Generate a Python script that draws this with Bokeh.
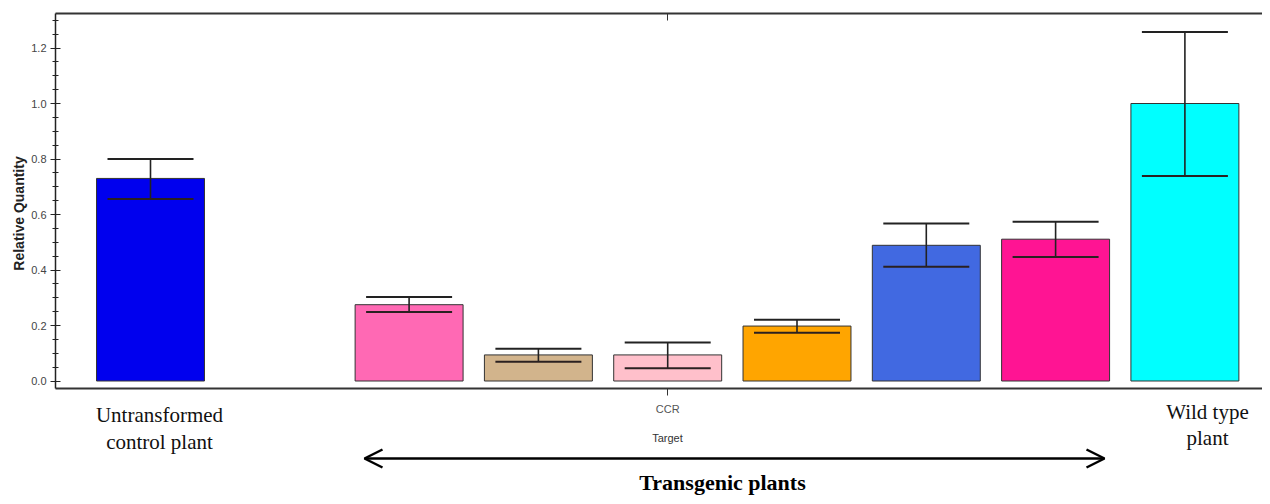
import math
from bokeh.plotting import figure
from bokeh.models import (ColumnDataSource, Whisker, TeeHead, Label, Arrow, OpenHead,
                          LinearAxis, FixedTicker, Range1d, NumeralTickFormatter)
from bokeh.embed import file_html
from bokeh.resources import INLINE

# ---- data ----
slots = [0, 2, 3, 4, 5, 6, 7, 8]
rq = [0.73, 0.275, 0.094, 0.094, 0.198, 0.489, 0.511, 1.0]
rq_upper = [0.80, 0.303, 0.116, 0.139, 0.221, 0.568, 0.574, 1.258]
rq_lower = [0.656, 0.249, 0.069, 0.046, 0.174, 0.412, 0.447, 0.739]
colors = ["#0000EE", "#FF69B4", "#D2B48C", "#FFC0CB", "#FFA500", "#4169E1", "#FF1493", "#00FFFF"]
target_tick = [4]
target_label = "CCR"
y_ticks = [0.0, 0.2, 0.4, 0.6, 0.8, 1.0, 1.2]
y_minor = [round(i * 0.05, 2) for i in range(0, 27)]


# pixel <-> data helpers (layout only)
def xpix(px):
    return (px - 150.0) / 129.3


def ypix(py):
    return (380.5 - py) / 277.5


W, H = 1262, 496
src = ColumnDataSource(dict(x=slots, top=rq, upper=rq_upper, lower=rq_lower, color=colors))

p = figure(width=W, height=H, output_backend="svg", toolbar_location=None,
           x_range=Range1d(xpix(0), xpix(W)), y_range=Range1d(ypix(H), ypix(0)),
           min_border_left=0, min_border_right=0, min_border_top=0, min_border_bottom=0,
           x_axis_location=None, y_axis_location=None)
p.outline_line_color = None
p.grid.visible = False
p.background_fill_color = "white"

p.vbar(x="x", top="top", bottom=0, width=0.835, fill_color="color",
       line_color="#333333", line_width=1, source=src)

w = Whisker(base="x", upper="upper", lower="lower", source=src, level="overlay",
            line_color="#222222", line_width=1.6,
            upper_head=TeeHead(size=86, line_color="#222222", line_width=2),
            lower_head=TeeHead(size=86, line_color="#2a2020", line_width=2))
p.add_layout(w)

tick_font = "Liberation Sans"
x_left, y_bot, y_top = xpix(55), ypix(388), ypix(13)

yaxis = LinearAxis(ticker=FixedTicker(ticks=y_ticks, minor_ticks=y_minor),
                   formatter=NumeralTickFormatter(format="0.0"),
                   fixed_location=x_left, bounds=(y_bot, y_top),
                   major_label_text_font=tick_font,
                   major_label_text_font_size="11px",
                   major_label_text_color="#444444",
                   major_label_standoff=4,
                   major_tick_in=5, major_tick_out=5,
                   minor_tick_in=3, minor_tick_out=3,
                   axis_line_width=1.5, axis_line_color="#222222",
                   major_tick_line_color="#222222", minor_tick_line_color="#222222")
p.add_layout(yaxis, "left")

xaxis = LinearAxis(ticker=FixedTicker(ticks=target_tick, minor_ticks=[]),
                   major_label_overrides={target_tick[0]: target_label},
                   fixed_location=y_bot, bounds=(x_left, xpix(W)),
                   major_label_text_font=tick_font,
                   major_label_text_font_size="11px",
                   major_label_text_color="#555555",
                   major_label_standoff=7,
                   major_tick_in=0, major_tick_out=7,
                   axis_line_width=2, axis_line_color="#333333",
                   major_tick_line_color="#333333")
p.add_layout(xaxis, "below")

top_axis = LinearAxis(ticker=FixedTicker(ticks=target_tick, minor_ticks=[]),
                      major_label_overrides={target_tick[0]: ""},
                      fixed_location=y_top, bounds=(x_left, xpix(W)),
                      major_tick_in=7, major_tick_out=0,
                      axis_line_width=2, axis_line_color="#333333",
                      major_tick_line_color="#333333")
p.add_layout(top_axis, "above")

# axis titles
p.add_layout(Label(x=xpix(18), y=ypix(213), text="Relative Quantity", angle=math.pi / 2,
                   text_font="Liberation Sans", text_font_style="bold",
                   text_font_size="14px", text_color="#222222",
                   text_align="center", text_baseline="middle"))
p.add_layout(Label(x=xpix(667), y=ypix(437), text="Target",
                   text_font=tick_font, text_font_size="11px", text_color="#333333",
                   text_align="center", text_baseline="middle"))

serif = "Liberation Serif"
for txt, px, py in [("Untransformed", 159, 414), ("control plant", 159, 441),
                    ("Wild type", 1207, 411), ("plant", 1207, 437)]:
    p.add_layout(Label(x=xpix(px), y=ypix(py), text=txt, text_font=serif,
                       text_font_size="21px", text_color="#111111",
                       text_align="center", text_baseline="middle"))

p.add_layout(Label(x=xpix(722), y=ypix(482), text="Transgenic plants", text_font=serif,
                   text_font_size="22px", text_font_style="bold", text_color="#000000",
                   text_align="center", text_baseline="middle"))

p.add_layout(Arrow(x_start=xpix(364), y_start=ypix(458), x_end=xpix(1104), y_end=ypix(458),
                   line_width=2.5, line_color="#000000",
                   start=OpenHead(size=18, line_width=2.5, line_color="#000000"),
                   end=OpenHead(size=18, line_width=2.5, line_color="#000000")))

open("out.html", "w").write(file_html(p, INLINE))
